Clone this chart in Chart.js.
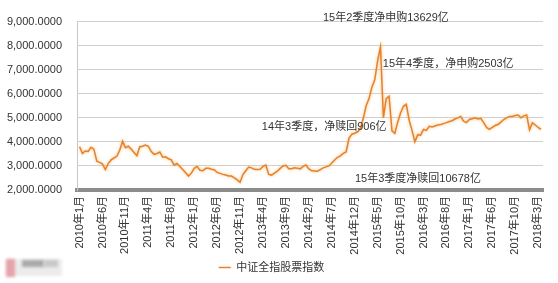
<!DOCTYPE html>
<html>
<head>
<meta charset="utf-8">
<script src="https://cdn.jsdelivr.net/npm/chart.js@4/dist/chart.umd.min.js"></script>
<style>
  html, body { margin: 0; padding: 0; background: #fff; }
  #wrap { width: 558px; height: 283px; position: relative; }
</style>
</head>
<body>
<div id="wrap"><canvas id="c"></canvas></div>
<script>
// axis labels, one every 8 points
const tickLabels = ['2010年1月', '2010年6月', '2010年11月', '2011年4月', '2011年8月', '2012年1月', '2012年6月',
    '2012年11月', '2013年4月', '2013年9月', '2014年2月', '2014年7月', '2014年12月', '2015年5月', '2015年10月',
    '2016年3月', '2016年8月', '2017年1月', '2017年6月', '2017年10月', '2018年3月'];

// 中证全指 close
const indexValues = [
    3800, 3520, 3620, 3600, 3780, 3700, 3200, 3150,
    3080, 2850, 3100, 3250, 3330, 3400, 3650, 4030,
    3760, 3820, 3700, 3560, 3420, 3800, 3820, 3870,
    3820, 3600, 3480, 3520, 3580, 3360, 3380, 3300,
    3250, 3030, 3100, 2980, 2850, 2720, 2580, 2700,
    2900, 2980, 2820, 2800, 2900, 2900, 2860, 2840,
    2730, 2690, 2650, 2620, 2580, 2580, 2500, 2420,
    2320, 2640, 2800, 2950, 2920, 2860, 2850, 2860,
    2980, 3040, 2650, 2620, 2700, 2780, 2900, 3000,
    3030, 2880, 2880, 2920, 2900, 2880, 2980, 3040,
    2880, 2800, 2790, 2780, 2850, 2920, 2960, 3000,
    3120, 3250, 3360, 3420, 3520, 3580, 4150, 4320,
    4360, 4420, 4550, 4980, 5500, 5800, 6270, 6580,
    7380, 7950, 5000, 5800, 5900, 4460, 4350, 4820,
    5200, 5480, 5560, 4900, 4480, 4000, 4300, 4280,
    4520, 4480, 4650, 4620, 4660, 4700, 4720, 4760,
    4800, 4850, 4880, 4950, 5000, 5060, 4860, 4800,
    4930, 4960, 5000, 4950, 4980, 4800, 4600, 4520,
    4600, 4680, 4720, 4820, 4930, 5000, 5060, 5060,
    5100, 5120, 5000, 5080, 5120, 4500, 4800, 4700,
    4600, 4520
];

const seriesName = '中证全指股票指数';

// notes written on the chart: anchored at point index / index value
const notes = [
    { text: '15年2季度净申购13629亿', at: 84.9, val: 9170 },
    { text: '15年4季度，净申购2503亿', at: 105.8, val: 7240 },
    { text: '14年3季度，净赎回906亿', at: 63.6, val: 4630 },
    { text: '15年3季度净赎回10678亿', at: 96.1, val: 2460 }
];

const textFont = '"Liberation Sans", "Noto Sans CJK SC", sans-serif';

const lineGlow = {
    id: 'lineGlow',
    beforeDatasetDraw(chart) {
        const ctx = chart.ctx;
        ctx.save();
        ctx.shadowColor = 'rgba(246, 178, 105, 0.9)';
        ctx.shadowBlur = 3;
    },
    afterDatasetDraw(chart) {
        chart.ctx.restore();
    }
};

const noteText = {
    id: 'noteText',
    afterDatasetsDraw(chart) {
        const { ctx, scales } = chart;
        ctx.save();
        ctx.font = '11px ' + textFont;
        ctx.fillStyle = '#333';
        ctx.textBaseline = 'middle';
        notes.forEach(n => {
            ctx.fillText(n.text, scales.x.getPixelForValue(n.at), scales.y.getPixelForValue(n.val));
        });
        ctx.restore();
    }
};

// blurred stamp in the lower left corner of the original
const stamp = {
    id: 'stamp',
    afterDraw(chart) {
        const ctx = chart.ctx;
        ctx.save();
        ctx.filter = 'blur(1.5px)';
        ctx.fillStyle = '#ececec';
        ctx.fillRect(6, 259, 56, 17);
        ctx.fillStyle = '#e6a3aa';
        ctx.fillRect(6, 259, 9, 18);
        ctx.fillStyle = '#a9a9a9';
        ctx.fillRect(22, 260, 22, 7);
        ctx.fillStyle = '#c8c8c8';
        ctx.fillRect(44, 260, 14, 7);
        ctx.restore();
    }
};

new Chart(document.getElementById('c'), {
    type: 'line',
    data: {
        datasets: [{
            label: seriesName,
            data: indexValues.map((v, i) => ({ x: i, y: v })),
            borderColor: '#e5822a',
            backgroundColor: '#e5822a',
            borderWidth: 1.5,
            pointRadius: 0,
            tension: 0
        }]
    },
    options: {
        responsive: true,
        maintainAspectRatio: false,
        animation: false,
        layout: { padding: { top: 8.5, right: 15, bottom: 0, left: 0 } },
        plugins: {
            tooltip: { enabled: false },
            legend: {
                position: 'bottom',
                labels: {
                    usePointStyle: true,
                    pointStyle: 'line',
                    pointStyleWidth: 12,
                    color: '#333',
                    padding: 2,
                    font: { family: textFont, size: 11 }
                }
            }
        },
        scales: {
            x: {
                type: 'linear',
                min: -0.9,
                max: 161.7,
                afterBuildTicks: scale => {
                    scale.ticks = tickLabels.map((_, k) => ({ value: k * 8 }));
                },
                afterFit: scale => { scale.height = 70; },
                grid: { display: false, drawTicks: false },
                border: { display: true, color: '#8c8c8c', width: 4 },
                ticks: {
                    autoSkip: false,
                    maxRotation: 90,
                    minRotation: 90,
                    padding: 6,
                    color: '#333',
                    font: { family: textFont, size: 11 },
                    callback: v => tickLabels[v / 8]
                }
            },
            y: {
                min: 2000,
                max: 9000,
                afterFit: scale => { scale.width = 77; },
                grid: { color: '#d0d0d0', drawTicks: false },
                border: { display: true, color: '#c8c8c8' },
                ticks: {
                    stepSize: 1000,
                    padding: 15,
                    color: '#333',
                    font: { family: textFont, size: 11 },
                    callback: v => v.toLocaleString('en-US', { minimumFractionDigits: 4, maximumFractionDigits: 4 })
                }
            }
        }
    },
    plugins: [lineGlow, noteText, stamp]
});
</script>
</body>
</html>
